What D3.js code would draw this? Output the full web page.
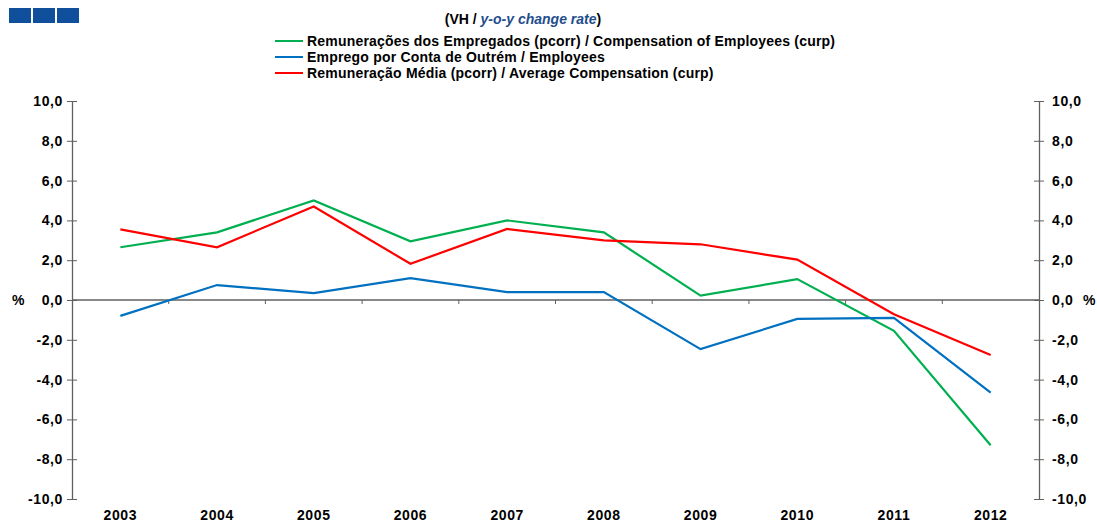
<!DOCTYPE html>
<html>
<head>
<meta charset="utf-8">
<script src="https://cdn.jsdelivr.net/npm/d3@7"></script>
<style>
  body { margin: 0; background: #fff; }
  text { font-family: "Liberation Sans", Arial, sans-serif; font-weight: bold; }
</style>
</head>
<body>
<svg id="chart" width="1097" height="522"></svg>
<script>
/* DATA */
const years = ["2003","2004","2005","2006","2007","2008","2009","2010","2011","2012"];
const compensation = [2.65, 3.4, 5.0, 2.95, 4.0, 3.4, 0.22, 1.05, -1.55, -7.3];
const employees = [-0.8, 0.75, 0.35, 1.1, 0.4, 0.4, -2.47, -0.95, -0.9, -4.65];
const avgCompensation = [3.55, 2.65, 4.7, 1.82, 3.57, 3.0, 2.8, 2.03, -0.72, -2.76];
const yTicks = [-10, -8, -6, -4, -2, 0, 2, 4, 6, 8, 10];
const seriesNames = [
  "Remunerações dos Empregados (pcorr) / Compensation of Employees (curp)",
  "Emprego por Conta de Outrém / Employees",
  "Remuneração Média (pcorr) / Average Compensation (curp)"
];
const seriesColors = ["#00b050", "#0070c0", "#ff0000"];

/* CONSTANTS */
const width = 1097, height = 522,
  margin = {top: 101, bottom: 23, left: 72, right: 58};

const svg = d3.select("#chart");

const xScale = d3.scaleBand()
  .domain(years)
  .range([margin.left, width - margin.right])
  .padding(0);

const yScale = d3.scaleLinear()
  .domain([-10, 10])
  .range([height - margin.bottom, margin.top]);

const fmt = d => d3.format(".1f")(d).replace(".", ",").replace("−", "-");

// logo boxes
svg.selectAll("rect.logo")
  .data([0, 1, 2])
  .join("rect")
    .attr("class", "logo")
    .attr("x", d => 9 + d * 24)
    .attr("y", 8)
    .attr("width", 22)
    .attr("height", 15)
    .attr("fill", "#0f4f9b");

// title
const title = svg.append("text")
  .attr("x", 523)
  .attr("y", 24)
  .attr("text-anchor", "middle")
  .attr("font-size", "14px")
  .attr("fill", "#000");
title.append("tspan").text("(VH / ");
title.append("tspan").text("y-o-y change rate").attr("font-style", "italic").attr("fill", "#1f4e8c");
title.append("tspan").text(")");

// legend
const legend = svg.selectAll("g.legend")
  .data(seriesNames)
  .join("g")
    .attr("class", "legend")
    .attr("transform", (d, i) => `translate(275,${41 + i * 16})`);
legend.append("line")
  .attr("x1", 0).attr("x2", 28)
  .attr("stroke", (d, i) => seriesColors[i])
  .attr("stroke-width", 2);
legend.append("text")
  .attr("x", 32)
  .attr("y", 5)
  .attr("font-size", "14px")
  .attr("letter-spacing", "0.2px")
  .text(d => d);

// left axis
const leftAxis = svg.append("g")
  .attr("transform", `translate(${margin.left},0)`)
  .call(d3.axisLeft(yScale).tickValues(yTicks).tickFormat(fmt).tickSize(5).tickSizeOuter(0));
leftAxis.select(".domain").attr("stroke", "#606060").attr("stroke-width", 1.3);
leftAxis.selectAll(".tick line").attr("x2", 5).attr("x1", -5).attr("stroke", "#606060");
leftAxis.selectAll(".tick text").attr("x", -9).attr("font-size", "14px").attr("letter-spacing", "0.6px")
  .attr("font-family", "Liberation Sans, Arial").attr("font-weight", "bold").attr("fill", "#000");

// right axis
const rightAxis = svg.append("g")
  .attr("transform", `translate(${width - margin.right},0)`)
  .call(d3.axisRight(yScale).tickValues(yTicks).tickFormat(fmt).tickSize(5).tickSizeOuter(0));
rightAxis.select(".domain").attr("stroke", "#606060").attr("stroke-width", 1.3);
rightAxis.selectAll(".tick line").attr("x1", -5).attr("x2", 5).attr("stroke", "#606060");
rightAxis.selectAll(".tick text").attr("x", 13).attr("font-size", "14px").attr("letter-spacing", "0.6px")
  .attr("font-family", "Liberation Sans, Arial").attr("font-weight", "bold").attr("fill", "#000");

// % labels
svg.append("text").attr("x", 12).attr("y", yScale(0) + 5).attr("font-size", "14px").text("%");
svg.append("text").attr("x", 1083).attr("y", yScale(0) + 5).attr("font-size", "14px").text("%");

// zero line with category ticks
svg.append("line")
  .attr("x1", margin.left).attr("x2", width - margin.right)
  .attr("y1", yScale(0)).attr("y2", yScale(0))
  .attr("stroke", "#606060").attr("stroke-width", 1.3);
svg.selectAll("line.xtick")
  .data(years.slice(1))
  .join("line")
    .attr("class", "xtick")
    .attr("x1", d => xScale(d)).attr("x2", d => xScale(d))
    .attr("y1", yScale(0)).attr("y2", yScale(0) + 4)
    .attr("stroke", "#606060");

// x labels
svg.selectAll("text.xlabel")
  .data(years)
  .join("text")
    .attr("class", "xlabel")
    .attr("x", d => xScale(d) + xScale.bandwidth() / 2)
    .attr("y", 520)
    .attr("text-anchor", "middle")
    .attr("font-size", "14px")
    .attr("letter-spacing", "0.6px")
    .text(d => d);

// lines
const line = d3.line()
  .x((d, i) => xScale(years[i]) + xScale.bandwidth() / 2)
  .y(d => yScale(d));

svg.selectAll("path.series")
  .data([compensation, employees, avgCompensation])
  .join("path")
    .attr("class", "series")
    .attr("d", line)
    .attr("fill", "none")
    .attr("stroke", (d, i) => seriesColors[i])
    .attr("stroke-width", 2.2);
</script>
</body>
</html>
